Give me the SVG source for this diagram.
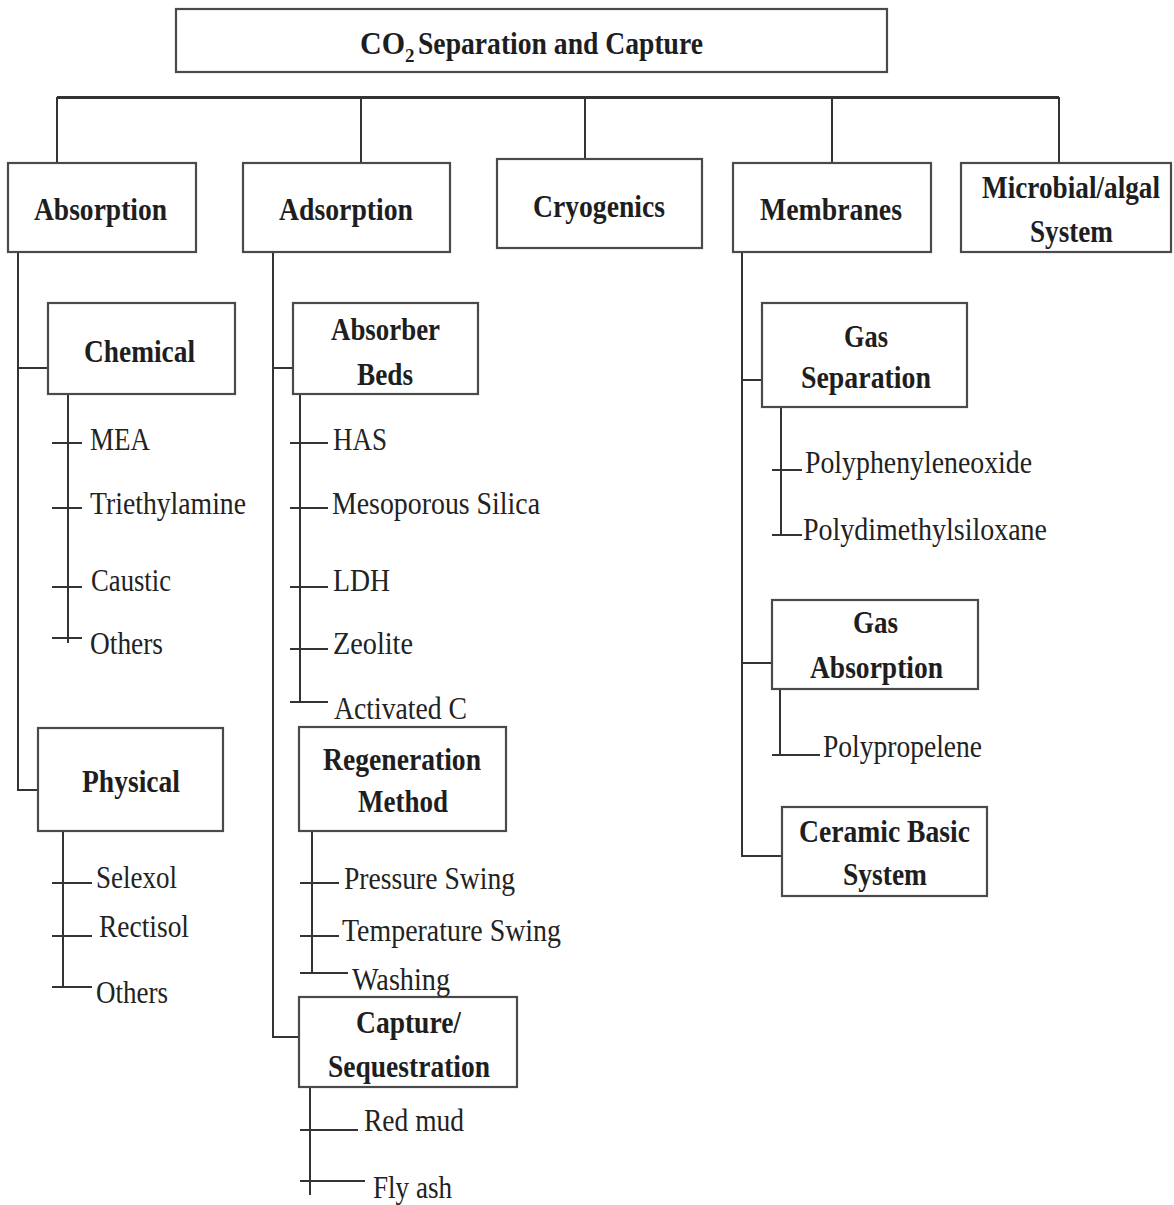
<svg xmlns="http://www.w3.org/2000/svg" width="1174" height="1205" viewBox="0 0 1174 1205">
<style>
.box{fill:#fff;stroke:#4a4a4a;stroke-width:2.2}
.lbl{font-family:"Liberation Serif","Times New Roman",serif;font-weight:bold;font-size:32px;fill:#1e1e1e}
.leaf{font-family:"Liberation Serif","Times New Roman",serif;font-size:32px;fill:#222}
.conn{stroke:#333;stroke-width:2;fill:none}
.bus{stroke:#333;stroke-width:3;fill:none}
</style>
<rect width="1174" height="1205" fill="#fff"/>
<g id="connectors">
<path class="bus" d="M57,97.5 H1059"/>
<path class="conn" d="M57,97 V163 M361,97 V163 M585,97 V159 M832,97 V163 M1059,97 V163"/>
<path class="conn" d="M18,252 V790 H38 M18,368 H48"/>
<path class="conn" d="M68,394 V643 M52,443 H82 M52,508 H82 M52,587 H82 M52,638 H82"/>
<path class="conn" d="M63,831 V987 M52,883 H92 M52,936 H92 M52,987 H92"/>
<path class="conn" d="M273,252 V1037 H299 M273,368 H293"/>
<path class="conn" d="M300,394 V702 M290,443 H328 M290,508 H328 M290,587 H328 M290,649 H328 M290,702 H328"/>
<path class="conn" d="M312,831 V973 M300,883 H339 M300,936 H339 M300,973 H348"/>
<path class="conn" d="M310,1087 V1195 M300,1130 H358 M300,1181 H365"/>
<path class="conn" d="M742,252 V856 H790 M742,380 H762 M742,663 H772"/>
<path class="conn" d="M781,407 V535 M772,470 H802 M772,535 H802"/>
<path class="conn" d="M780,689 V755 M772,755 H820"/>
</g>
<g id="title">
<rect class="box" x="176" y="9" width="711" height="63"/>
<text class="lbl" x="360" y="54"><tspan textLength="45" lengthAdjust="spacingAndGlyphs">CO</tspan><tspan x="405" dy="8" style="font-size:19px">2</tspan><tspan x="418" dy="-8" textLength="285" lengthAdjust="spacingAndGlyphs">Separation and Capture</tspan></text>
</g>
<g id="absorption">
<rect class="box" x="8" y="163" width="188" height="89"/>
<text class="lbl" x="34" y="220" textLength="133" lengthAdjust="spacingAndGlyphs">Absorption</text>
</g>
<g id="adsorption">
<rect class="box" x="243" y="163" width="207" height="89"/>
<text class="lbl" x="279" y="220" textLength="134" lengthAdjust="spacingAndGlyphs">Adsorption</text>
</g>
<g id="cryogenics">
<rect class="box" x="497" y="159" width="205" height="89"/>
<text class="lbl" x="533" y="217" textLength="132" lengthAdjust="spacingAndGlyphs">Cryogenics</text>
</g>
<g id="membranes">
<rect class="box" x="733" y="163" width="198" height="89"/>
<text class="lbl" x="760" y="220" textLength="142" lengthAdjust="spacingAndGlyphs">Membranes</text>
</g>
<g id="microbial">
<rect class="box" x="961" y="163" width="210" height="89"/>
<text class="lbl" x="982" y="198" textLength="178" lengthAdjust="spacingAndGlyphs">Microbial/algal</text>
<text class="lbl" x="1030" y="242" textLength="83" lengthAdjust="spacingAndGlyphs">System</text>
</g>
<g id="chemical">
<rect class="box" x="48" y="303" width="187" height="91"/>
<text class="lbl" x="84" y="362" textLength="111" lengthAdjust="spacingAndGlyphs">Chemical</text>
</g>
<g id="physical">
<rect class="box" x="38" y="728" width="185" height="103"/>
<text class="lbl" x="82" y="792" textLength="98" lengthAdjust="spacingAndGlyphs">Physical</text>
</g>
<g id="absorber-beds">
<rect class="box" x="293" y="303" width="185" height="91"/>
<text class="lbl" x="331" y="340" textLength="109" lengthAdjust="spacingAndGlyphs">Absorber</text>
<text class="lbl" x="357" y="385" textLength="56" lengthAdjust="spacingAndGlyphs">Beds</text>
</g>
<g id="regeneration">
<rect class="box" x="299" y="727" width="207" height="104"/>
<text class="lbl" x="323" y="770" textLength="158" lengthAdjust="spacingAndGlyphs">Regeneration</text>
<text class="lbl" x="358" y="812" textLength="90" lengthAdjust="spacingAndGlyphs">Method</text>
</g>
<g id="capture">
<rect class="box" x="299" y="997" width="218" height="90"/>
<text class="lbl" x="356" y="1033" textLength="105" lengthAdjust="spacingAndGlyphs">Capture/</text>
<text class="lbl" x="328" y="1077" textLength="162" lengthAdjust="spacingAndGlyphs">Sequestration</text>
</g>
<g id="gas-separation">
<rect class="box" x="762" y="303" width="205" height="104"/>
<text class="lbl" x="844" y="347" textLength="44" lengthAdjust="spacingAndGlyphs">Gas</text>
<text class="lbl" x="801" y="388" textLength="130" lengthAdjust="spacingAndGlyphs">Separation</text>
</g>
<g id="gas-absorption">
<rect class="box" x="772" y="600" width="206" height="89"/>
<text class="lbl" x="853" y="633" textLength="45" lengthAdjust="spacingAndGlyphs">Gas</text>
<text class="lbl" x="810" y="678" textLength="133" lengthAdjust="spacingAndGlyphs">Absorption</text>
</g>
<g id="ceramic">
<rect class="box" x="782" y="807" width="205" height="89"/>
<text class="lbl" x="799" y="842" textLength="171" lengthAdjust="spacingAndGlyphs">Ceramic Basic</text>
<text class="lbl" x="843" y="885" textLength="84" lengthAdjust="spacingAndGlyphs">System</text>
</g>
<g id="leaves">
<text class="leaf" x="90" y="450" textLength="60" lengthAdjust="spacingAndGlyphs">MEA</text>
<text class="leaf" x="90" y="514" textLength="156" lengthAdjust="spacingAndGlyphs">Triethylamine</text>
<text class="leaf" x="91" y="591" textLength="80" lengthAdjust="spacingAndGlyphs">Caustic</text>
<text class="leaf" x="90" y="654" textLength="73" lengthAdjust="spacingAndGlyphs">Others</text>
<text class="leaf" x="96" y="888" textLength="81" lengthAdjust="spacingAndGlyphs">Selexol</text>
<text class="leaf" x="99" y="937" textLength="90" lengthAdjust="spacingAndGlyphs">Rectisol</text>
<text class="leaf" x="96" y="1003" textLength="72" lengthAdjust="spacingAndGlyphs">Others</text>
<text class="leaf" x="333" y="450" textLength="54" lengthAdjust="spacingAndGlyphs">HAS</text>
<text class="leaf" x="332" y="514" textLength="208" lengthAdjust="spacingAndGlyphs">Mesoporous Silica</text>
<text class="leaf" x="333" y="591" textLength="57" lengthAdjust="spacingAndGlyphs">LDH</text>
<text class="leaf" x="333" y="654" textLength="80" lengthAdjust="spacingAndGlyphs">Zeolite</text>
<text class="leaf" x="334" y="719" textLength="133" lengthAdjust="spacingAndGlyphs">Activated C</text>
<text class="leaf" x="344" y="889" textLength="171" lengthAdjust="spacingAndGlyphs">Pressure Swing</text>
<text class="leaf" x="342" y="941" textLength="219" lengthAdjust="spacingAndGlyphs">Temperature Swing</text>
<text class="leaf" x="352" y="990" textLength="98" lengthAdjust="spacingAndGlyphs">Washing</text>
<text class="leaf" x="364" y="1131" textLength="100" lengthAdjust="spacingAndGlyphs">Red mud</text>
<text class="leaf" x="373" y="1198" textLength="79" lengthAdjust="spacingAndGlyphs">Fly ash</text>
<text class="leaf" x="805" y="473" textLength="227" lengthAdjust="spacingAndGlyphs">Polyphenyleneoxide</text>
<text class="leaf" x="803" y="540" textLength="244" lengthAdjust="spacingAndGlyphs">Polydimethylsiloxane</text>
<text class="leaf" x="823" y="757" textLength="159" lengthAdjust="spacingAndGlyphs">Polypropelene</text>
</g>
</svg>
